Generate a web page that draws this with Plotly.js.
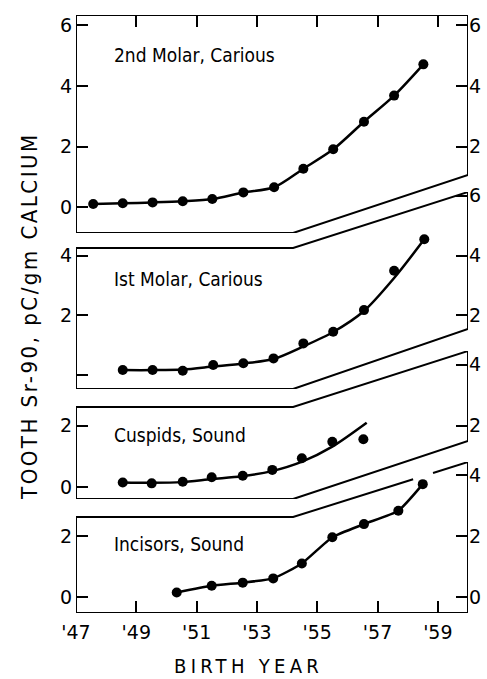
<!DOCTYPE html>
<html>
<head>
<meta charset="utf-8">
<script src="https://cdn.plot.ly/plotly-3.0.1.min.js"></script>
<style>
html,body{margin:0;padding:0;background:#fff;}
#chart{width:487px;height:679px;}
</style>
</head>
<body>
<div id="chart"></div>
<script>
// ---- data ----
const yearTicks = [1947, 1949, 1951, 1953, 1955, 1957, 1959];
const yearTickText = ["'47", "'49", "'51", "'53", "'55", "'57", "'59"];

const molar2Years = [1947.57, 1948.55, 1949.54, 1950.54, 1951.52, 1952.55, 1953.57, 1954.54, 1955.53, 1956.55, 1957.55, 1958.52];
const molar2Sr = [0.11, 0.13, 0.16, 0.20, 0.27, 0.49, 0.66, 1.27, 1.91, 2.82, 3.68, 4.71];

const molar1Years = [1948.55, 1949.54, 1950.54, 1951.55, 1952.55, 1953.55, 1954.54, 1955.53, 1956.55, 1957.55, 1958.55];
const molar1Sr = [0.18, 0.18, 0.16, 0.35, 0.41, 0.57, 1.07, 1.46, 2.18, 3.49, 4.54];
const molar1FitSr = [0.18, 0.18, 0.20, 0.30, 0.40, 0.55, 0.97, 1.45, 2.15, 3.25, 4.54];

const cuspidYears = [1948.55, 1949.51, 1950.54, 1951.5, 1952.53, 1953.51, 1954.49, 1955.5, 1956.53];
const cuspidSr = [0.15, 0.12, 0.17, 0.32, 0.37, 0.56, 0.94, 1.48, 1.56];
const cuspidFitYears = [1948.55, 1949.5, 1950.5, 1951.5, 1952.5, 1953.5, 1954.5, 1955.5, 1956.64];
const cuspidFitSr = [0.15, 0.14, 0.16, 0.26, 0.35, 0.52, 0.83, 1.32, 2.10];

const incisorYears = [1950.34, 1951.5, 1952.53, 1953.54, 1954.49, 1955.5, 1956.55, 1957.69, 1958.5];
const incisorSr = [0.15, 0.37, 0.47, 0.61, 1.10, 1.96, 2.39, 2.83, 3.70];

const panelLabels = ["2nd Molar, Carious", "Ist Molar, Carious", "Cuspids, Sound", "Incisors, Sound"];
const xTitle = 'BIRTH YEAR';
const yTitle = 'TOOTH Sr-90, pC/gm CALCIUM';

// ---- panel geometry (axis units) ----
const X0 = 1947, X1 = 1960, XB = 1954.2;
const panels = [
  {ax:'y',  range:[-0.847, 6.336], domain:[0.6355, 1.0],   top:[6.336, 6.336], bot:[-0.847, 1.064], left:[0,2,4,6], leftText:['0','2','4','6'], right:[2,4,6], labelY:5.02},
  {ax:'y2', range:[-0.45, 6.117],  domain:[0.3746, 0.704], top:[4.25, 6.117],  bot:[-0.45, 1.55],   left:[0,2,4], leftText:['','2','4'], right:[2,4,6], labelY:3.22},
  {ax:'y3', range:[-0.392, 4.444], domain:[0.1906, 0.4381],top:[2.614, 4.444], bot:[-0.392, 1.503], left:[0,2], leftText:['0','2'], right:[2,4], labelY:1.70},
  {ax:'y4', range:[-0.525, 4.426], domain:[0.0, 0.2525],   top:[2.623, 4.426], bot:[-0.525, -0.525], left:[0,2], leftText:['0','2'], right:[0,2,4], labelY:1.74}
];

const tickFont = {family:'DejaVu Sans, sans-serif', size:19, color:'#000'};
const labFont = {family:'DejaVu Sans Condensed, DejaVu Sans, sans-serif', size:19, color:'#000'};
const titleFont = {family:'DejaVu Sans Condensed, DejaVu Sans, sans-serif', size:22, color:'#000'};
const xTitleFont = {family:'DejaVu Sans Condensed, DejaVu Sans, sans-serif', size:20, color:'#000'};

const mk = {color:'#000', size:10};
const ln = {color:'#000', width:2.5, shape:'spline', smoothing:0.8};

const traces = [
  {x:molar2Years, y:molar2Sr, xaxis:'x', yaxis:'y', mode:'lines+markers', marker:mk, line:ln},
  {x:molar1Years, y:molar1FitSr, xaxis:'x', yaxis:'y2', mode:'lines', line:ln},
  {x:molar1Years, y:molar1Sr, xaxis:'x', yaxis:'y2', mode:'markers', marker:mk},
  {x:cuspidFitYears, y:cuspidFitSr, xaxis:'x', yaxis:'y3', mode:'lines', line:ln},
  {x:cuspidYears, y:cuspidSr, xaxis:'x', yaxis:'y3', mode:'markers', marker:mk},
  {x:incisorYears, y:incisorSr, xaxis:'x', yaxis:'y4', mode:'lines+markers', marker:mk, line:Object.assign({}, ln, {smoothing:0.5})},
  // carriers for the mirrored axes
  {x:[X0], y:[null], xaxis:'x2', yaxis:'y', mode:'markers', showlegend:false, hoverinfo:'skip'},
  {x:[X0], y:[null], xaxis:'x', yaxis:'y5', mode:'markers', showlegend:false, hoverinfo:'skip'},
  {x:[X0], y:[null], xaxis:'x', yaxis:'y6', mode:'markers', showlegend:false, hoverinfo:'skip'},
  {x:[X0], y:[null], xaxis:'x', yaxis:'y7', mode:'markers', showlegend:false, hoverinfo:'skip'},
  {x:[X0], y:[null], xaxis:'x', yaxis:'y8', mode:'markers', showlegend:false, hoverinfo:'skip'}
];

const baseY = {showgrid:false, zeroline:false, showline:false, ticks:'inside', ticklen:12, tickwidth:2, tickcolor:'#000', tickfont:tickFont, fixedrange:true, anchor:'x'};

const layout = {
  width:487, height:679,
  margin:{l:76, r:19, t:15, b:66},
  paper_bgcolor:'#fff', plot_bgcolor:'rgba(0,0,0,0)',
  showlegend:false,
  xaxis:{range:[X0, X1], domain:[0,1], anchor:'y4', showgrid:false, zeroline:false, showline:false,
         tickmode:'array', tickvals:yearTicks, ticktext:yearTickText, ticklabelstandoff:6,
         ticks:'inside', ticklen:12, tickwidth:2, tickcolor:'#000', tickfont:tickFont},
  xaxis2:{range:[X0, X1], overlaying:'x', side:'top', anchor:'y', showgrid:false, zeroline:false, showline:false,
         tickmode:'array', tickvals:yearTicks.slice(1), showticklabels:false,
         ticks:'inside', ticklen:12, tickwidth:2, tickcolor:'#000'},
  shapes:[], annotations:[]
};

panels.forEach((p, i) => {
  const n = i + 1;
  const key = n === 1 ? 'yaxis' : 'yaxis' + n;
  layout[key] = Object.assign({}, baseY, {range:p.range, domain:p.domain, side:'left', ticklabelstandoff:3,
      tickmode:'array', tickvals:p.left, ticktext:p.leftText});
  layout['yaxis' + (n + 4)] = Object.assign({}, baseY, {range:p.range, overlaying:p.ax, side:'right',
      tickmode:'array', tickvals:p.right, ticktext:p.right.map(String)});
  const lineSty = {color:'#000', width:2};
  layout.shapes.push({type:'line', xref:'x', yref:p.ax, x0:X0, x1:X0, y0:p.bot[0], y1:p.top[0], line:lineSty});
  layout.shapes.push({type:'line', xref:'x', yref:p.ax, x0:X1, x1:X1, y0:p.bot[1], y1:p.top[1], line:lineSty});
  if (i === 3) {
    layout.shapes.push({type:'line', xref:'x', yref:p.ax, x0:X0, x1:X1, y0:p.bot[0], y1:p.bot[1], line:lineSty});
    // top edge of the lowest panel is broken around the last point
    const slope = (p.top[1] - p.top[0]) / (X1 - XB);
    const g0 = 1958.18, g1 = 1958.84;
    layout.shapes.push({type:'path', xref:'x', yref:p.ax,
      path:`M${X0},${p.top[0]} L${XB},${p.top[0]} L${g0},${p.top[0] + slope*(g0-XB)}`, line:lineSty});
    layout.shapes.push({type:'line', xref:'x', yref:p.ax, x0:g1, y0:p.top[0] + slope*(g1-XB), x1:X1, y1:p.top[1], line:lineSty});
  } else {
    layout.shapes.push({type:'path', xref:'x', yref:p.ax,
        path:`M${X0},${p.bot[0]} L${XB},${p.bot[0]} L${X1},${p.bot[1]}`, line:lineSty});
    if (i === 0) {
      layout.shapes.push({type:'line', xref:'x', yref:p.ax, x0:X0, x1:X1, y0:p.top[0], y1:p.top[1], line:lineSty});
    } else {
      layout.shapes.push({type:'path', xref:'x', yref:p.ax,
        path:`M${X0},${p.top[0]} L${XB},${p.top[0]} L${X1},${p.top[1]}`, line:lineSty});
    }
  }
  layout.annotations.push({xref:'x', yref:p.ax, x:1948.2, y:p.labelY, text:panelLabels[i],
      showarrow:false, xanchor:'left', yanchor:'middle', font:labFont});
});

layout.annotations.push({xref:'paper', yref:'paper', x:0.441, y:-0.089,
   text:'<span style="letter-spacing:4.3px">' + xTitle + '</span>', showarrow:false,
   xanchor:'center', yanchor:'middle', font:xTitleFont});
layout.annotations.push({xref:'paper', yref:'paper', x:-0.117, y:0.497,
   text:'<span style="letter-spacing:2.5px">' + yTitle + '</span>', showarrow:false,
   textangle:-90, xanchor:'center', yanchor:'middle', font:titleFont});

Plotly.newPlot('chart', traces, layout, {displayModeBar:false, staticPlot:true});
</script>
</body>
</html>
